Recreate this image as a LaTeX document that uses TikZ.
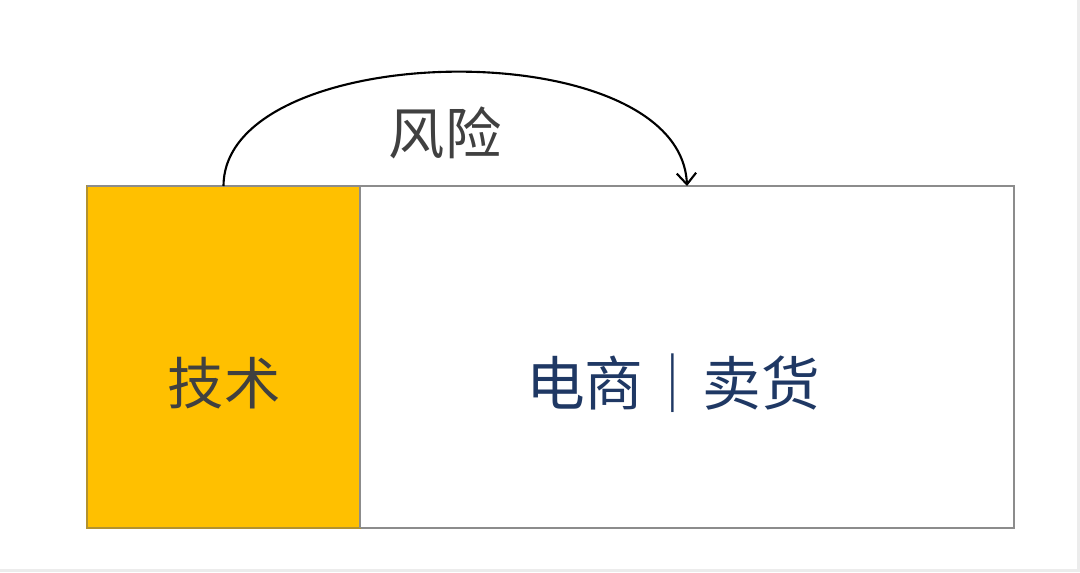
\documentclass[tikz,border=0pt]{standalone}
\usepackage{fontspec}
\newfontfamily\cjk{Noto Sans CJK SC}
\usetikzlibrary{arrows.meta}
\definecolor{techyellow}{HTML}{FFC000}
\definecolor{techedge}{HTML}{B3922E}
\definecolor{boxgray}{HTML}{8C8C8C}
\definecolor{txtgray}{HTML}{404040}
\definecolor{navy}{HTML}{1F3864}
\definecolor{edgegray}{HTML}{ECECEC}
\tikzset{
  box/.style={draw=boxgray, line width=0.6pt, minimum width=#1*0.01cm, minimum height=342*0.01cm, inner sep=0pt, outer sep=0pt},
  lbl/.style={font=\cjk\fontsize{16}{16}\selectfont, inner sep=0pt},
}
\begin{document}
\begin{tikzpicture}[x=0.01cm,y=-0.01cm]
\useasboundingbox (0,0) rectangle (1080,572);
\fill[white] (0,0) rectangle (1080,572);
\fill[edgegray] (1077,0) rectangle (1080,572);
\fill[edgegray] (0,569) rectangle (1080,572);
\node[box=654, fill=white] (ecom) at (687,357) {};
\node[box=273, fill=techyellow, draw=techedge] (tech) at (223.5,357) {};
\draw[boxgray, line width=0.6pt] (tech.north west) -- (tech.north east) -- (tech.south east);
\node[lbl, text=txtgray] (techtxt) at (224,383) {技术};
\node[lbl, text=navy, font=\cjk\fontsize{16.7}{16.7}\selectfont] (ecomtxt) at (673,383) {电商｜卖货};
\draw[black, line width=0.6pt, -{Straight Barb[length=3.2pt,width=5.5pt]}] (tech.north) .. controls (224,38) and (680,30) .. (ecom.north);
\node[lbl, text=txtgray] (risk) at (445,133) {风险};
\end{tikzpicture}
\end{document}
